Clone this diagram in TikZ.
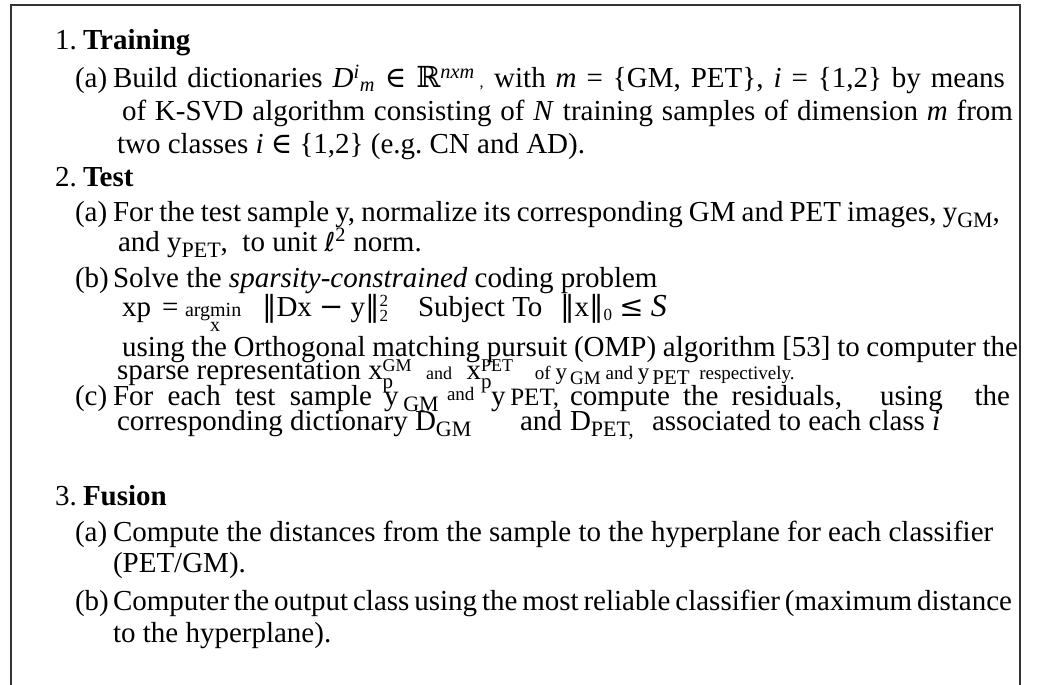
\documentclass[tikz,border=0pt]{standalone}
\usepackage{fontspec}
\setmainfont{Liberation Serif}
\newfontfamily\sym{DejaVu Serif}
\newfontfamily\symsans{DejaVu Sans}

% a line stretched to a fixed width (interword spaces take up the slack)
\newcommand\jl[2]{\hbox to #1pt{#2}}
\newcommand\fs[1]{\fontsize{#1}{#1}\selectfont}
% lowered small text, as used for the modality subscripts
\newcommand\lo[1]{\raisebox{-6pt}{\fs{22}#1}}
% sparse code x with subscript p and a modality superscript
\newcommand\xs[1]{x\makebox[0pt][l]{\raisebox{-9pt}{\fs{21}p}}\raisebox{8pt}{\fs{18}#1}}
% stacked superscript / subscript pair
\newcommand\supsub[2]{\makebox[0pt][l]{\raisebox{-5pt}{\fs{17}#2}}\raisebox{10pt}{\fs{17}#1}}

\tikzset{
  txt/.style={anchor=base west, inner sep=0pt, outer sep=0pt, font=\fs{29}},
  small/.style={txt, font=\fs{20}},
  frame/.style={draw=black!80, line width=1.5pt}
}

\begin{document}
\begin{tikzpicture}[x=1pt, y=-1pt]
\useasboundingbox (0,0) rectangle (1039,685);

% open box round the algorithm
\coordinate (bl) at (11,685);
\coordinate (tl) at (11,5);
\coordinate (tr) at (1020,5);
\coordinate (br) at (1020,685);
\draw[frame] (bl) -- (tl) -- (tr) -- (br);

% 1. Training
\node[txt] (n1) at (55,50) {1.};
\node[txt] (h1) at (83,50) {\textbf{Training}};
\node[txt] (a1) at (75,88) {(a)};
\node[txt] (a1l1) at (113,88) {\jl{892}{Build dictionaries \textit{D}\textsuperscript{\textit{i}}\textsubscript{\textit{m}} {\sym ∈} {\sym ℝ}\textsuperscript{\textit{nxm}}\,{\fs{16},} with \textit{m} = \{GM, PET\}, \textit{i} = \{1,2\} by means}};
\node[txt] (a1l2) at (122,121) {\jl{891}{of K-SVD algorithm consisting of \textit{N} training samples of dimension \textit{m} from}};
\node[txt] (a1l3) at (117,153) {two classes \textit{i} {\sym ∈} \{1,2\} (e.g.\ CN and AD).};

% 2. Test
\node[txt] (n2) at (55,186) {2.};
\node[txt] (h2) at (83,186) {\textbf{Test}};
\node[txt] (a2) at (75,221) {(a)};
\node[txt] (a2l1) at (113,221) {\jl{887}{For the test sample y, normalize its corresponding GM and PET images, y\lo{GM},}};
\node[txt] (a2l2) at (118,251) {and y\lo{PET}, \ to unit {\symsans\fs{26}ℓ}\textsuperscript{2} norm.};

\node[txt] (b2) at (75,287) {(b)};
\node[txt] (b2l1) at (113,287) {Solve the \textit{sparsity-constrained} coding problem};
\node[txt] (xp) at (122,316) {xp};
\node[txt] (eq) at (162,316) {=};
\node[small] (am) at (185,316) {argmin};
\node[small] (amx) at (210,331) {x};
\node[txt] (nrm) at (262,316) {{\sym ‖}Dx {\sym −} y{\sym ‖}\supsub{2}{2}};
\node[txt] (sbj) at (418,316) {Subject To};
\node[txt] (cns) at (560,316) {{\sym ‖}x{\sym ‖}\raisebox{-4pt}{\fs{17}0} {\sym ≤} {\fs{32}\textit{S}}};
\node[txt] (b2l3) at (122,356) {\jl{896}{using the Orthogonal matching pursuit (OMP) algorithm [53] to computer the}};
\node[txt] (b2l4) at (117,379) {sparse representation \xs{GM} \ {\fs{18}and} \ \xs{PET} \ \ {\fs{19}of {\fs{23}y}\,\raisebox{-5pt}{GM} and {\fs{23}y}\,\raisebox{-5pt}{\fs{21}PET} \ respectively.}};

\node[txt] (c2) at (75,405) {(c)};
\node[txt] (c2a) at (113,405) {\jl{259}{For each test sample}};
\node[txt] (c2b) at (384,405) {y\,\lo{GM}};
\node[txt, font=\fs{19}] (c2c) at (447,400) {and};
\node[txt] (c2d) at (491,405) {y\,{\fs{25}PET,}};
\node[txt] (c2e) at (570,405) {\jl{272}{compute the residuals,}};
\node[txt] (c2f) at (880,405) {\jl{130}{using the}};
\node[txt] (c2l2) at (117,430) {corresponding dictionary D\lo{GM}};
\node[txt] (c2g) at (520,430) {and};
\node[txt] (c2h) at (570,430) {D\lo{PET,}};
\node[txt] (c2i) at (652,430) {associated to each class \textit{i}};

% 3. Fusion
\node[txt] (n3) at (55,505) {3.};
\node[txt] (h3) at (83,505) {\textbf{Fusion}};
\node[txt] (a3) at (75,541) {(a)};
\node[txt] (a3l1) at (113,541) {Compute the distances from the sample to the hyperplane for each classifier};
\node[txt] (a3l2) at (113,572) {(PET/GM).};
\node[txt] (b3) at (75,610) {(b)};
\node[txt] (b3l1) at (113,610) {\jl{899}{Computer the output class using the most reliable classifier (maximum distance}};
\node[txt] (b3l2) at (113,642) {to the hyperplane).};
\end{tikzpicture}
\end{document}
